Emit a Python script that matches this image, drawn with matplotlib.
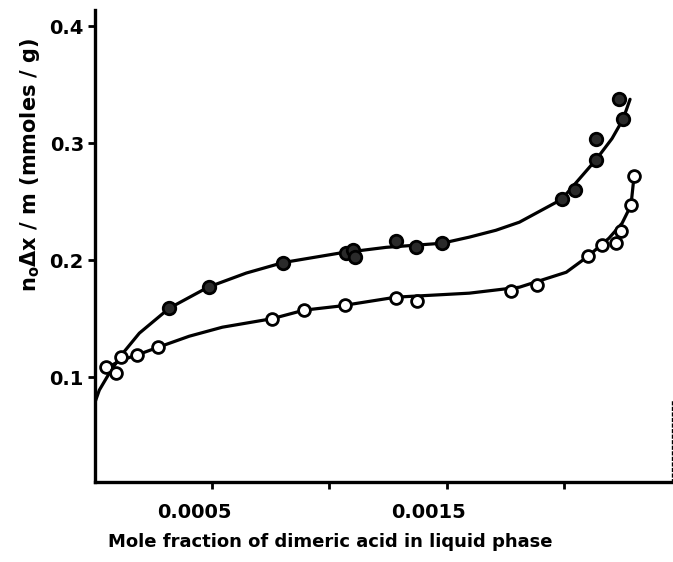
import matplotlib
matplotlib.use("Agg")
import matplotlib.pyplot as plt
import matplotlib.transforms as mtransforms

# ---- data ----
# filled (upper) series points
x_filled = [0.000317, 0.000484, 0.000803, 0.00107, 0.00110, 0.00111, 0.001284,
            0.001369, 0.00148, 0.001992, 0.002047, 0.002137, 0.002137, 0.002252, 0.002235]
y_filled = [0.159, 0.177, 0.198, 0.206, 0.209, 0.203, 0.216,
            0.211, 0.2145, 0.252, 0.260, 0.286, 0.304, 0.3205, 0.3376]

# open (lower) series points
x_open = [0.000048, 0.000091, 0.000112, 0.00018, 0.00027, 0.000756, 0.000892,
          0.001067, 0.001284, 0.001373, 0.001774, 0.001885, 0.002103, 0.002162,
          0.002222, 0.002244, 0.002286, 0.002299]
y_open = [0.1085, 0.1034, 0.117, 0.119, 0.126, 0.150, 0.157,
          0.162, 0.168, 0.165, 0.174, 0.1786, 0.2034, 0.2128,
          0.2145, 0.2248, 0.247, 0.2718]

# smooth curves traced on the picture
x_curve_up = [0.0, 0.0000183, 0.000061, 0.000112, 0.000189, 0.000317, 0.000483,
              0.000645, 0.000803, 0.001041, 0.001242, 0.00148, 0.001596, 0.00171,
              0.00181, 0.00199, 0.002137, 0.002205, 0.002252, 0.002282]
y_curve_up = [0.0786, 0.0889, 0.1034, 0.1188, 0.1376, 0.159, 0.177,
              0.189, 0.198, 0.206, 0.211, 0.2145, 0.2197, 0.2256,
              0.2325, 0.252, 0.286, 0.304, 0.3205, 0.3376]

x_curve_low = [0.0000311, 0.000112, 0.00018, 0.00027, 0.000402, 0.000543, 0.000756,
               0.000892, 0.001041, 0.001284, 0.001596, 0.00181, 0.00201, 0.002103,
               0.002192, 0.002248, 0.002286, 0.002299]
y_curve_low = [0.106, 0.1145, 0.119, 0.1256, 0.135, 0.1427, 0.150,
               0.1573, 0.1607, 0.1684, 0.1718, 0.1769, 0.1897, 0.2034,
               0.2188, 0.2316, 0.247, 0.2718]

x_ticks = [0.0005, 0.0010, 0.0015, 0.0020]
x_ticklabels = ["0.0005", "", "0.0015", ""]
y_ticks = [0.1, 0.2, 0.3, 0.4]
y_ticklabels = ["0.1", "0.2", "0.3", "0.4"]

plt.rcParams['font.family'] = ['DejaVu Sans']

fig = plt.figure(figsize=(6.73, 5.62), dpi=100)
ax = fig.add_axes([0.1412, 0.1423, 0.857, 0.840])

ax.plot(x_curve_up, y_curve_up, color='black', lw=2.3, solid_joinstyle='round',
        solid_capstyle='round', zorder=2)
ax.plot(x_curve_low, y_curve_low, color='black', lw=2.3, solid_joinstyle='round',
        solid_capstyle='round', zorder=2)

ax.plot(x_open, y_open, linestyle='none', marker='o', markersize=8.5,
        markerfacecolor='white', markeredgecolor='black', markeredgewidth=2.0, zorder=3)
ax.plot(x_filled, y_filled, linestyle='none', marker='o', markersize=9,
        markerfacecolor='#2a2a2a', markeredgecolor='black', markeredgewidth=2.0, zorder=3)

ax.set_xlim(0, 0.00246)
ax.set_ylim(0.0103, 0.414)

ax.set_xticks(x_ticks)
ax.set_xticklabels(x_ticklabels, fontweight='bold')
ax.set_yticks(y_ticks)
ax.set_yticklabels(y_ticklabels, fontweight='bold')

ax.tick_params(axis='both', direction='out', length=5, width=2, labelsize=14)
ax.tick_params(axis='x', pad=10)
ax.tick_params(axis='y', pad=3)

# shift x tick labels slightly left as in the original
offset = mtransforms.ScaledTranslation(-18 / 100, 0, fig.dpi_scale_trans)
for lab in ax.get_xticklabels():
    lab.set_transform(lab.get_transform() + offset)

ax.spines['top'].set_visible(False)
ax.spines['right'].set_bounds(0.0103, 0.08)
ax.spines['right'].set_linestyle((0, (2, 2)))
ax.spines['right'].set_linewidth(1.0)
ax.spines['left'].set_linewidth(2.4)
ax.spines['bottom'].set_linewidth(2.4)

fig.text(0.045, 0.706, r"n$_\mathregular{o}$$\mathbf{\Delta}$x / m (mmoles / g)",
         rotation=90, ha='center', va='center', fontsize=15, fontweight='bold')
fig.text(0.49, 0.035, "Mole fraction of dimeric acid in liquid phase",
         ha='center', va='center', fontsize=13, fontweight='bold')

fig.savefig("out.png", dpi=100)
